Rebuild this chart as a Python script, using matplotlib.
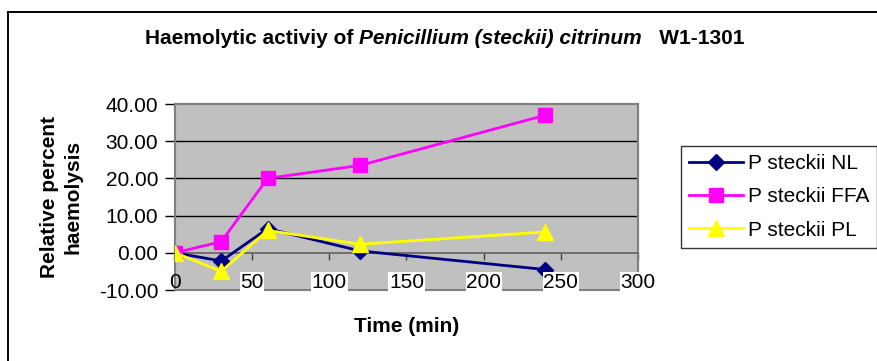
import matplotlib
matplotlib.use('Agg')
import matplotlib.pyplot as plt
import matplotlib.transforms as mtransforms
from matplotlib.patches import Rectangle

# *** Data
lstTime = [0, 30, 60, 120, 240]
lstNL = [0.0, -2.2, 6.5, 0.5, -4.5]
lstFFA = [0.0, 3.0, 20.0, 23.5, 37.0]
lstPL = [0.0, -5.0, 6.0, 2.3, 5.6]

lstXtick = [0, 50, 100, 150, 200, 250, 300]
lstYtick = [-10, 0, 10, 20, 30, 40]

# Title pieces (plain, italic, plain)
lstTitle = [('Haemolytic activiy of ', 'normal'),
            ('Penicillium (steckii) citrinum', 'italic'),
            ('   W1-1301', 'normal')]

plt.rcParams['font.family'] = ['Liberation Sans', 'DejaVu Sans']

# *** Figure
fgr01 = plt.figure(figsize=(8.78, 3.61), dpi=100)
fgr01.patch.set_facecolor('white')

# Outer chart border
fgr01.patches.append(Rectangle((8 / 878, -0.2), 1.2, (1 - 12 / 361) + 0.2,
                               transform=fgr01.transFigure, fill=False,
                               edgecolor='black', linewidth=1.4))

axs01 = fgr01.add_axes([175 / 878, 1 - 290 / 361, 463 / 878, 186 / 361])
axs01.set_facecolor('#C0C0C0')
axs01.set_xlim(0, 300)
axs01.set_ylim(-10, 40)

# Horizontal gridlines
for varY in [10, 20, 30]:
    axs01.axhline(varY, color='black', linewidth=1.0, zorder=1)

# Plot frame
for strTmp in ['top', 'left', 'right']:
    axs01.spines[strTmp].set_color('#808080')
    axs01.spines[strTmp].set_linewidth(1.5)
axs01.add_patch(Rectangle((0, 0), 1, 1, transform=axs01.transAxes, fill=False,
                          edgecolor='#808080', linewidth=1.5, zorder=1,
                          clip_on=False))

# X axis crosses at zero
axs01.spines['bottom'].set_position(('data', 0))
axs01.spines['bottom'].set_color('#606060')
axs01.spines['bottom'].set_linewidth(1.2)
axs01.set_xticks(lstXtick)
axs01.tick_params(axis='x', direction='out', length=5, width=1,
                  color='#404040', labelbottom=False)
axs01.set_yticks(lstYtick)
axs01.set_yticklabels(['{:.2f}'.format(v) for v in lstYtick])
axs01.tick_params(axis='y', direction='out', length=7, width=1,
                  color='black', labelsize=15, pad=5)

# X tick labels sit at the bottom of the plot area
trnBlend = mtransforms.blended_transform_factory(axs01.transData,
                                                 axs01.transAxes)
for varX in lstXtick:
    dctBox = None
    if varX != 0:
        dctBox = dict(facecolor='white', edgecolor='none', pad=0.5)
    axs01.text(varX, 0.04, str(varX), transform=trnBlend, ha='center',
               va='center', fontsize=15, bbox=dctBox, zorder=5,
               clip_on=False)

# Series
axs01.plot(lstTime, lstNL, color='#000080', linewidth=2, marker='D',
           markersize=8, label='P steckii NL', zorder=3)
axs01.plot(lstTime, lstFFA, color='#FF00FF', linewidth=2, marker='s',
           markersize=10, label='P steckii FFA', zorder=3)
axs01.plot(lstTime, lstPL, color='#FFFF00', linewidth=2, marker='^',
           markersize=11, label='P steckii PL', zorder=4)

# Title, built from chained pieces
txtPrev = fgr01.text(145 / 878, 1 - 38 / 361, lstTitle[0][0], ha='left',
                     va='center', fontsize=15, fontweight='bold',
                     fontstyle=lstTitle[0][1])
for strTxt, strStyle in lstTitle[1:]:
    txtPrev = axs01.annotate(strTxt, xy=(1, 0.5), xycoords=txtPrev,
                             ha='left', va='center', fontsize=15,
                             fontweight='bold', fontstyle=strStyle,
                             annotation_clip=False)

# Axis labels
fgr01.text(407 / 878, 1 - 327 / 361, 'Time (min)', ha='center', va='center',
           fontsize=15, fontweight='bold')
fgr01.text(61 / 878, 1 - 197 / 361, 'Relative percent\nhaemolysis',
           ha='center', va='center', rotation=90, fontsize=15,
           fontweight='bold', linespacing=1.3)

# Legend
lgd01 = axs01.legend(loc='upper left', bbox_to_anchor=(681 / 878, 1 - 146 / 361),
                     bbox_transform=fgr01.transFigure, fontsize=15,
                     frameon=True, fancybox=False, edgecolor='black',
                     borderpad=0.4, handlelength=2.6, handletextpad=0.2,
                     labelspacing=0.68, borderaxespad=0)
lgd01.get_frame().set_linewidth(1.0)

fgr01.savefig('out.png', dpi=100, facecolor='white')
plt.close(fgr01)
